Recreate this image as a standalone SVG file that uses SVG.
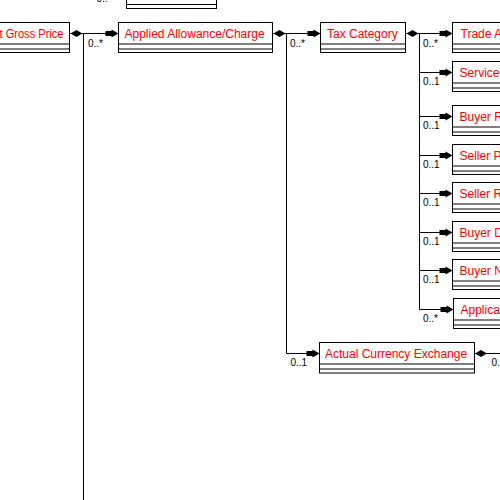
<svg xmlns="http://www.w3.org/2000/svg" width="500" height="500" viewBox="0 0 500 500">
<style>
.box rect{fill:#fff;stroke:#000;stroke-width:1}
.box line{stroke:#000;stroke-width:1}
.name{font-family:"Liberation Sans",Arial,sans-serif;font-size:12px;fill:#ff0000}
.card{font-family:"Liberation Sans",Arial,sans-serif;font-size:10px;fill:#000}
.con{fill:none;stroke:#000;stroke-width:1}
.arrowed{marker-end:url(#arr)}
.dia{marker-start:url(#dia)}
</style>
<defs>
<marker id="arr" markerUnits="userSpaceOnUse" markerWidth="14" markerHeight="10" refX="13" refY="5" orient="auto" overflow="visible">
<path d="M0,2.5 H6 V1 L13,5 L6,9 V7.5 H0 Z" fill="#000"/>
</marker>
<marker id="dia" markerUnits="userSpaceOnUse" markerWidth="13" markerHeight="8" refX="0" refY="4" orient="auto" overflow="visible">
<path d="M0.5,4 L6.5,0.5 L12.5,4 L6.5,7.5 Z" fill="#000"/>
</marker>
</defs>

<g id="connectors">
<path class="con dia arrowed" d="M70,33.5 H118.5"/>
<path class="con" d="M83.5,33.5 V500"/>
<path class="con dia arrowed" d="M273,33.5 H320.5"/>
<path class="con arrowed" d="M286.5,33.5 V353.5 H319.5"/>
<path class="con dia arrowed" d="M406,33.5 H452.5"/>
<path class="con" d="M419.5,33.5 V309.5"/>
<path class="con arrowed" d="M419.5,72.5 H452.5"/>
<path class="con arrowed" d="M419.5,116.5 H452.5"/>
<path class="con arrowed" d="M419.5,155.5 H452.5"/>
<path class="con arrowed" d="M419.5,193.5 H452.5"/>
<path class="con arrowed" d="M419.5,232.5 H452.5"/>
<path class="con arrowed" d="M419.5,270.5 H452.5"/>
<path class="con arrowed" d="M419.5,309.5 H453.5"/>
<path class="con dia" d="M474.5,353.5 H500"/>
<text class="card" x="96.5" y="2">0..*</text>
<text class="card" x="88" y="46.5">0..*</text>
<text class="card" x="290" y="46.5">0..*</text>
<text class="card" x="423" y="46.5">0..*</text>
<text class="card" x="423" y="85">0..1</text>
<text class="card" x="423" y="129">0..1</text>
<text class="card" x="423" y="168">0..1</text>
<text class="card" x="423" y="206">0..1</text>
<text class="card" x="423" y="245">0..1</text>
<text class="card" x="423" y="283">0..1</text>
<text class="card" x="423" y="322">0..*</text>
<text class="card" x="290.5" y="366">0..1</text>
<text class="card" x="491.5" y="366">0..1</text>
</g>

<g id="node-top" class="box">
<rect x="126.5" y="-22" width="90" height="30.5"/>
<line x1="126.5" y1="4.5" x2="216.5" y2="4.5"/>
</g>

<g id="node-gross-price" class="box">
<rect x="-30" y="22.5" width="99.5" height="30"/>
<line x1="-30" y1="44" x2="69.5" y2="44"/>
<line x1="-30" y1="49" x2="69.5" y2="49"/>
<text class="name" x="-0.5" y="37.5" textLength="64" lengthAdjust="spacingAndGlyphs">t Gross Price</text>
</g>

<g id="node-applied-allowance-charge" class="box">
<rect x="118.5" y="22.5" width="154" height="30"/>
<line x1="118.5" y1="44" x2="272.5" y2="44"/>
<line x1="118.5" y1="49" x2="272.5" y2="49"/>
<text class="name" x="124.5" y="37.5">Applied Allowance/Charge</text>
</g>

<g id="node-tax-category" class="box">
<rect x="320.5" y="22.5" width="85" height="30"/>
<line x1="320.5" y1="44" x2="405.5" y2="44"/>
<line x1="320.5" y1="49" x2="405.5" y2="49"/>
<text class="name" x="327" y="37.5">Tax Category</text>
</g>

<g id="node-actual-currency-exchange" class="box">
<rect x="319.5" y="342.5" width="155" height="30.5"/>
<line x1="319.5" y1="364" x2="474.5" y2="364"/>
<line x1="319.5" y1="369" x2="474.5" y2="369"/>
<text class="name" x="325" y="357.5">Actual Currency Exchange</text>
</g>

<g id="node-trade-a" class="box">
<rect x="452.5" y="22.5" width="100" height="30"/>
<line x1="452.5" y1="44" x2="552.5" y2="44"/>
<line x1="452.5" y1="49" x2="552.5" y2="49"/>
<text class="name" x="460.5" y="37.5">Trade A</text>
</g>

<g id="node-service" class="box">
<rect x="452.5" y="61.5" width="100" height="30"/>
<line x1="452.5" y1="83" x2="552.5" y2="83"/>
<line x1="452.5" y1="88" x2="552.5" y2="88"/>
<text class="name" x="459.5" y="76.5">Service</text>
</g>

<g id="node-buyer-r" class="box">
<rect x="452.5" y="105.5" width="100" height="30"/>
<line x1="452.5" y1="127" x2="552.5" y2="127"/>
<line x1="452.5" y1="132" x2="552.5" y2="132"/>
<text class="name" x="459.5" y="120.5">Buyer R</text>
</g>

<g id="node-seller-p" class="box">
<rect x="452.5" y="144.5" width="100" height="30"/>
<line x1="452.5" y1="166" x2="552.5" y2="166"/>
<line x1="452.5" y1="171" x2="552.5" y2="171"/>
<text class="name" x="459.5" y="159.5">Seller P</text>
</g>

<g id="node-seller-r" class="box">
<rect x="452.5" y="182.5" width="100" height="30"/>
<line x1="452.5" y1="204" x2="552.5" y2="204"/>
<line x1="452.5" y1="209" x2="552.5" y2="209"/>
<text class="name" x="459.5" y="197.5">Seller R</text>
</g>

<g id="node-buyer-d" class="box">
<rect x="452.5" y="221.5" width="100" height="30"/>
<line x1="452.5" y1="243" x2="552.5" y2="243"/>
<line x1="452.5" y1="248" x2="552.5" y2="248"/>
<text class="name" x="459.5" y="236.5">Buyer D</text>
</g>

<g id="node-buyer-n" class="box">
<rect x="452.5" y="259.5" width="100" height="30"/>
<line x1="452.5" y1="281" x2="552.5" y2="281"/>
<line x1="452.5" y1="286" x2="552.5" y2="286"/>
<text class="name" x="459.5" y="274.5">Buyer N</text>
</g>

<g id="node-applicable" class="box">
<rect x="453.5" y="298.5" width="100" height="30"/>
<line x1="453.5" y1="320" x2="553.5" y2="320"/>
<line x1="453.5" y1="325" x2="553.5" y2="325"/>
<text class="name" x="460.5" y="313.5">Applicable</text>
</g>
</svg>
